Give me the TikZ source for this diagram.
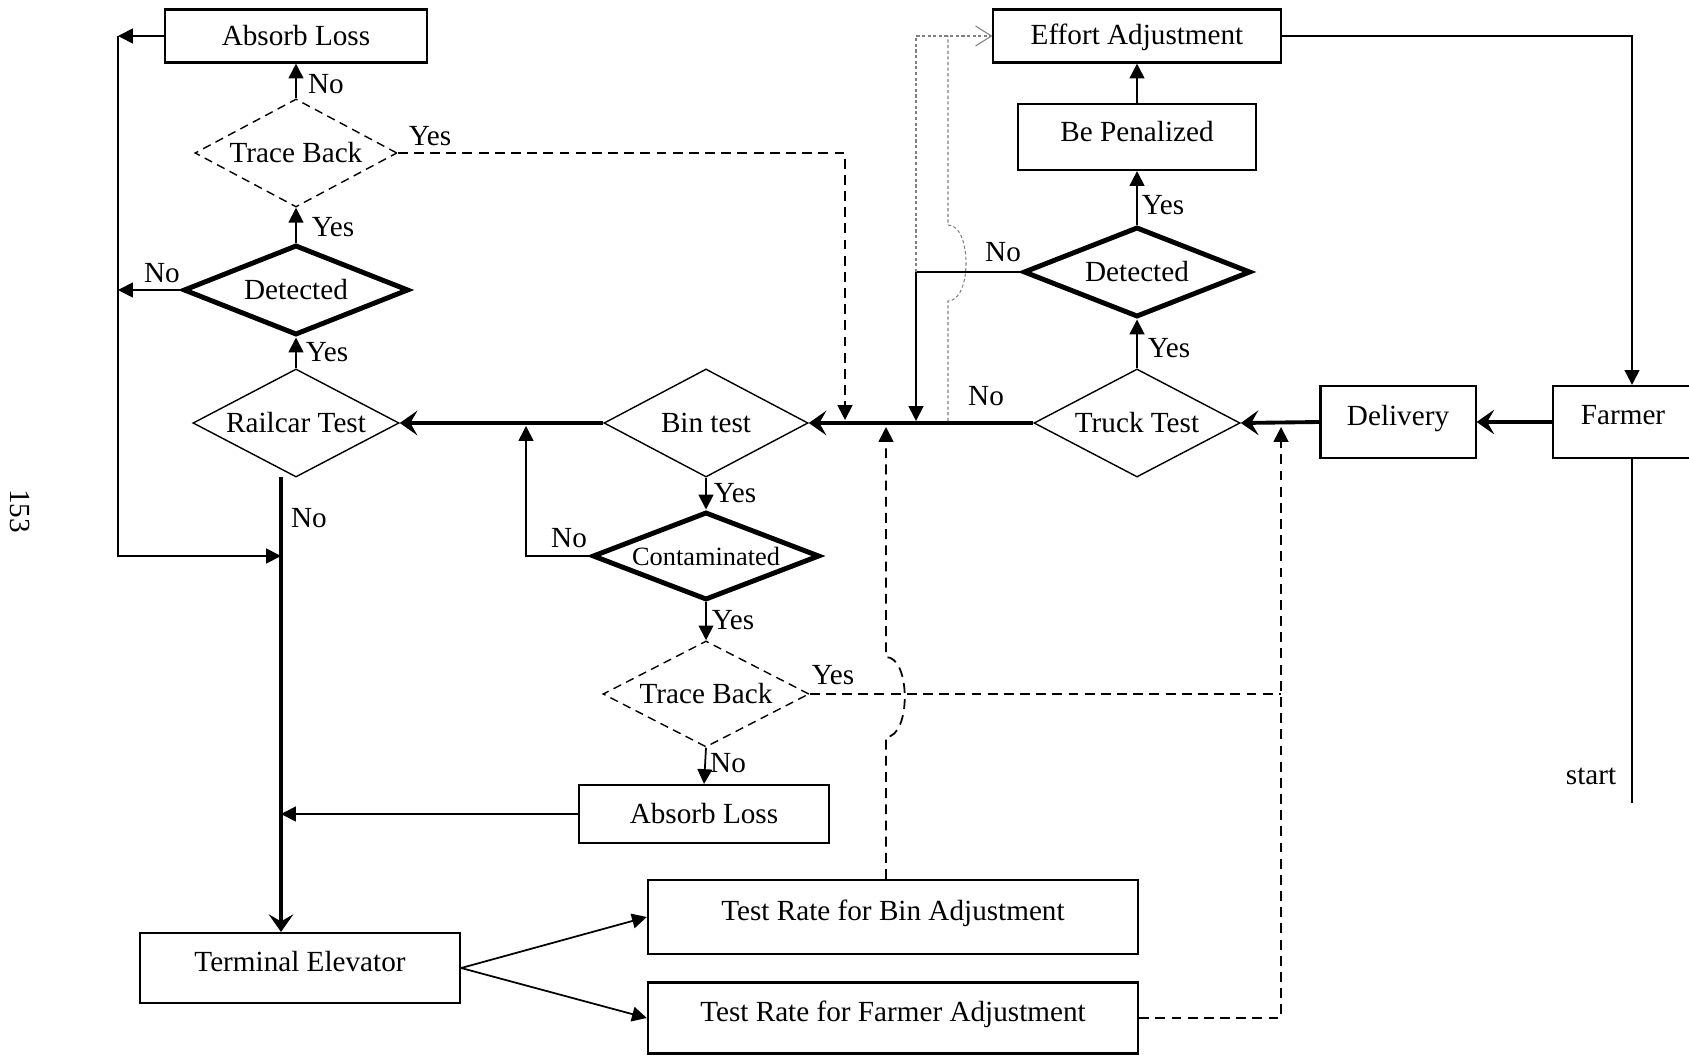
\documentclass[tikz,border=0pt]{standalone}
\usepackage{fontspec}
\setmainfont{Liberation Serif}
\usetikzlibrary{arrows.meta, shapes.geometric}

\begin{document}
\begin{tikzpicture}[x=0.01cm, y=-0.01cm,
    font=\fontsize{8.3}{10}\selectfont,
    box/.style={rectangle, draw=black, line width=0.6pt, inner sep=0pt, align=center},
    dia/.style={diamond, draw=black, line width=0.4pt, inner sep=0pt, aspect=1.9, align=center},
    thickdia/.style={dia, line width=1.4pt, aspect=2.5},
    dashdia/.style={dia, dash pattern=on 2.4pt off 1.6pt},
    lbl/.style={inner sep=0pt},
    line/.style={line width=0.5pt},
    arr/.style={-{Triangle[length=4.2pt,width=4.2pt]}, line width=0.5pt},
    barr/.style={-{Stealth[length=5pt,width=7pt,inset=2pt]}, line width=1.1pt},
    darr/.style={arr, dash pattern=on 2.8pt off 1.8pt},
    dline/.style={line, dash pattern=on 2.8pt off 1.8pt},
    dotl/.style={gray, line width=0.3pt, dash pattern=on 0.9pt off 0.7pt}]
  \useasboundingbox (0,0) rectangle (1689,1055);

  % left column
  \node[box, minimum width=2.62cm, minimum height=0.53cm] (absA) at (296,36) {Absorb Loss};
  \node[dashdia, minimum width=2.02cm, minimum height=1.08cm] (trA) at (296,153) {Trace Back};
  \node[thickdia, minimum width=2.25cm, minimum height=0.9cm] (detA) at (296,290) {Detected};
  \node[dia, minimum width=2.06cm, minimum height=1.08cm] (rail) at (296,423) {Railcar Test};
  \node[box, minimum width=3.2cm, minimum height=0.7cm, text depth=0.4em] (term) at (300,968) {Terminal Elevator};

  % middle column
  \node[dia, minimum width=2.04cm, minimum height=1.08cm] (bin) at (706,423) {Bin test};
  \node[thickdia, minimum width=2.27cm, minimum height=0.88cm, font=\fontsize{7.5}{9}\selectfont] (cont) at (706,556) {Contaminated};
  \node[dashdia, minimum width=2.06cm, minimum height=1.06cm] (trB) at (706,694) {Trace Back};
  \node[box, minimum width=2.5cm, minimum height=0.58cm] (absB) at (704,814) {Absorb Loss};
  \node[box, minimum width=4.9cm, minimum height=0.74cm, text depth=0.4em] (rateBin) at (893,917) {Test Rate for Bin Adjustment};
  \node[box, minimum width=4.9cm, minimum height=0.71cm, text depth=0.4em] (rateFarm) at (893,1018) {Test Rate for Farmer Adjustment};

  % right column
  \node[box, minimum width=2.87cm, minimum height=0.53cm, text depth=0.12em] (effort) at (1137,36) {Effort Adjustment};
  \node[box, minimum width=2.38cm, minimum height=0.66cm, text depth=0.3em] (pen) at (1137,137) {Be Penalized};
  \node[thickdia, minimum width=2.27cm, minimum height=0.9cm] (detB) at (1137,272) {Detected};
  \node[dia, minimum width=2.06cm, minimum height=1.08cm] (truck) at (1137,423) {Truck Test};
  \node[box, minimum width=1.55cm, minimum height=0.72cm, text depth=0.4em] (deliv) at (1398,422) {Delivery};
  \node[box, minimum width=1.4cm, minimum height=0.72cm, text depth=0.4em] (farmer) at (1623,422) {Farmer};
  \node (start) at (1591,776) {start};
  \node[rotate=-90] (pgno) at (20,511) {153};

  % labels
  \node[lbl] (noA) at (326,84) {No};
  \node[lbl] (yesA) at (430,136) {Yes};
  \node[lbl] (yesB) at (333,227) {Yes};
  \node[lbl] (noB) at (162,273) {No};
  \node[lbl] (yesC) at (327,352) {Yes};
  \node[lbl] (noC) at (309,518) {No};
  \node[lbl] (yesD) at (735,493) {Yes};
  \node[lbl] (noD) at (569,538) {No};
  \node[lbl] (yesE) at (733,620) {Yes};
  \node[lbl] (yesF) at (833,675) {Yes};
  \node[lbl] (noE) at (728,763) {No};
  \node[lbl] (noF) at (986,396) {No};
  \node[lbl] (noG) at (1003,252) {No};
  \node[lbl] (yesG) at (1169,348) {Yes};
  \node[lbl] (yesH) at (1163,205) {Yes};

  % main line
  \draw[barr] (farmer.west) -- (deliv.east);
  \draw[barr] (deliv.west) -- (truck.east);
  \draw[barr] (truck.west) -- (bin.east);
  \draw[barr] (bin.west) -- (rail.east);
  \coordinate (railfoot) at (281,477);
  \draw[barr] (railfoot) -- (railfoot |- term.north);

  % left side
  \draw[arr] (rail.north) -- (detA.south);
  \draw[arr] (detA.north) -- (trA.south);
  \draw[arr] (trA.north) -- (absA.south);
  \coordinate (lcol) at (118,556);
  \draw[arr] (absA.west) -- (absA.west -| lcol);
  \draw[arr] (detA.west) -- (detA.west -| lcol);
  \draw[arr] (absA.west -| lcol) -- (lcol) -- (lcol -| railfoot);
  \draw[arr] (absB.west) -- (absB.west -| railfoot);

  % bin side
  \draw[arr] (bin.south) -- (cont.north);
  \draw[arr] (cont.south) -- (trB.north);
  \draw[arr] (trB.south) -- (absB.north);
  \coordinate (contcol) at (526,426);
  \draw[arr] (cont.west) -| (contcol);
  \draw[arr] (term.east) -- (rateBin.west);
  \draw[arr] (term.east) -- (rateFarm.west);

  % dashed feedback
  \coordinate (tbcol) at (845,420);
  \draw[darr] (trA.east) -| (tbcol);
  \coordinate (farmcol) at (1281,427);
  \draw[darr] (rateFarm.east) -| (farmcol);
  \draw[dline] (trB.east) -- (trB.east -| farmcol);
  \coordinate (bincol) at (886,427);
  \draw[darr] (rateBin.north -| bincol) -- (886,737) .. controls (911,737) and (911,657) .. (886,657) -- (bincol);

  % right side
  \draw[arr] (truck.north) -- (detB.south);
  \draw[arr] (detB.north) -- (pen.south);
  \draw[arr] (pen.north) -- (effort.south);
  \coordinate (nocol) at (916,421);
  \draw[arr] (detB.west) -| (nocol);
  \coordinate (fcol) at (1632,0);
  \draw[arr] (effort.east) -| (fcol |- farmer.north);
  \coordinate (startpt) at (1632,803);
  \draw[line] (startpt) -- (startpt |- farmer.south);

  % dotted
  \draw[dotl, -{Straight Barb[length=4.5pt,width=5.7pt]}] (detB.west -| nocol) -- (nocol |- effort.west) -- (effort.west);
  \coordinate (dotfoot) at (948,421);
  \draw[dotl] (dotfoot) -- (948,301) .. controls (972,301) and (972,225) .. (948,225) -- (dotfoot |- effort.west);
\end{tikzpicture}
\end{document}
